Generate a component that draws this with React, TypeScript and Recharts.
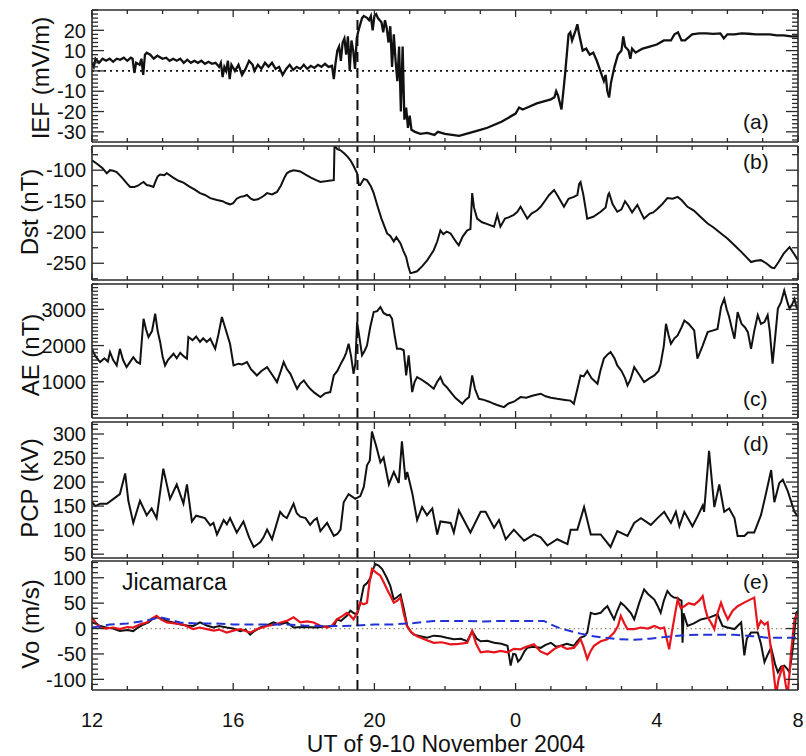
import React from 'react';
import { LineChart, Line, XAxis, YAxis, ReferenceLine } from 'recharts';

// x values are hours after 12 UT on 9 November 2004
const xMajorTicks = [0, 4, 8, 12, 16, 20];
const xTickLabels = ['12', '16', '20', '0', '4', '8'];
const eventHour = 7.52;

const iefPoints: [number, number][] = [
  [0, 4], [0.05, 2], [0.1, 6], [0.2, 4], [0.3, 6], [0.4, 5], [0.5, 6], [0.6, 4.5], [0.7, 6], [0.8, 5.5],
  [0.9, 6.5], [1.0, 5], [1.1, 6.5], [1.15, 6], [1.2, -1], [1.25, 4], [1.35, 3], [1.4, 6], [1.45, -2], [1.5, 8],
  [1.55, 9], [1.65, 8], [1.75, 6], [1.85, 7.5], [2.0, 6], [2.1, 6.5], [2.2, 5], [2.3, 6], [2.4, 5], [2.5, 6],
  [2.6, 4], [2.7, 5.5], [2.8, 4], [2.9, 5], [3.0, 4], [3.1, 5], [3.2, 3.5], [3.3, 4.5], [3.4, 3.5], [3.5, 4],
  [3.6, 2], [3.65, 4], [3.7, -3], [3.75, 2], [3.8, 0], [3.85, 5], [3.9, -4], [3.95, 3], [4.05, 0], [4.15, 3],
  [4.25, -2], [4.35, 1], [4.45, 5], [4.55, 3], [4.6, 0], [4.7, 3], [4.8, 1], [4.9, 4], [5.0, 2], [5.1, 4],
  [5.2, 1], [5.3, 2], [5.4, -2], [5.5, 1], [5.6, 3], [5.7, 0.5], [5.8, 2], [5.9, 1], [6.0, 3], [6.1, 1],
  [6.2, 2.5], [6.3, 1.5], [6.4, 3], [6.5, 2], [6.6, 3.5], [6.7, 2], [6.8, 2.5], [6.85, -4], [6.9, 4], [6.95, 10],
  [7.0, 12], [7.05, 5], [7.1, 14], [7.15, 16], [7.2, 8], [7.25, 17], [7.3, 0], [7.35, 15], [7.4, 10], [7.45, 1],
  [7.5, 16], [7.55, 20], [7.6, 23], [7.65, 26], [7.7, 27], [7.8, 26], [7.85, 25], [7.9, 27], [7.95, 20], [8.0, 27],
  [8.05, 28], [8.1, 26], [8.2, 24], [8.25, 19], [8.3, 25], [8.35, 21], [8.4, 14], [8.45, 22], [8.5, 2], [8.55, 18],
  [8.6, 5], [8.65, -5], [8.7, 12], [8.75, -20], [8.8, 12], [8.85, -24], [8.9, -18], [8.95, -28], [9.0, -22], [9.05, -29],
  [9.15, -30], [9.3, -31], [9.5, -30.5], [9.7, -31.5], [9.8, -30], [10.0, -31], [10.2, -31.5], [10.4, -32], [10.6, -31], [10.8, -30],
  [11.0, -29], [11.2, -28], [11.4, -26.5], [11.6, -25], [11.8, -23], [12.0, -21], [12.1, -18], [12.2, -19], [12.4, -17.5], [12.6, -16],
  [12.8, -15], [13.0, -14], [13.1, -13], [13.15, -10], [13.2, -12], [13.3, -19], [13.4, -2], [13.45, 8], [13.5, 18], [13.55, 19],
  [13.6, 15], [13.7, 20], [13.75, 23], [13.8, 18], [13.9, 10], [14.0, 11], [14.1, 8], [14.2, 9], [14.3, 5], [14.4, 0],
  [14.5, -5], [14.55, -2], [14.6, -10], [14.65, -13], [14.7, -6], [14.8, 2], [14.9, 8], [15.0, 10], [15.05, 17], [15.1, 12],
  [15.2, 10], [15.25, 6], [15.3, 11], [15.4, 9], [15.5, 10], [15.6, 11], [15.8, 12], [16.0, 13], [16.2, 15], [16.4, 15],
  [16.5, 18], [16.6, 19], [16.7, 15], [16.8, 15], [17.0, 18], [17.2, 18.5], [17.4, 18.5], [17.6, 18.2], [17.8, 18.5], [17.9, 16],
  [18.0, 18], [18.2, 18], [18.4, 18.5], [18.6, 18.3], [18.8, 18], [19.0, 18], [19.2, 18], [19.4, 17.5], [19.6, 17.5], [19.8, 17],
  [20.0, 17],
];

const dstPoints: [number, number][] = [
  [0, -84], [0.15, -90], [0.3, -97], [0.42, -105], [0.51, -100], [0.6, -101], [0.7, -103], [0.85, -112], [1.0, -122], [1.08, -127],
  [1.2, -127], [1.3, -125], [1.4, -121], [1.46, -119], [1.55, -124], [1.65, -125], [1.74, -127], [1.8, -118], [1.86, -110], [1.93, -107],
  [2.05, -108], [2.12, -105], [2.3, -112], [2.45, -117], [2.59, -120], [2.75, -126], [2.9, -131], [3.06, -137], [3.2, -140], [3.35, -145],
  [3.54, -148], [3.7, -150], [3.8, -153], [3.91, -155], [4.0, -153], [4.1, -146], [4.2, -143], [4.3, -142], [4.39, -140], [4.5, -146],
  [4.58, -148], [4.7, -147], [4.85, -142], [4.96, -137], [5.1, -139], [5.24, -135], [5.35, -125], [5.45, -112], [5.52, -105], [5.6, -102],
  [5.71, -100], [5.8, -101], [5.9, -102], [6.05, -107], [6.2, -112], [6.35, -116], [6.47, -119], [6.6, -118], [6.7, -117], [6.85, -116],
  [6.87, -60], [6.95, -66], [7.04, -68], [7.15, -73], [7.25, -79], [7.32, -84], [7.4, -92], [7.51, -105], [7.56, -124], [7.6, -124],
  [7.7, -114], [7.79, -116], [7.9, -126], [7.98, -137], [8.1, -160], [8.2, -178], [8.36, -202], [8.45, -206], [8.55, -215], [8.62, -208],
  [8.74, -218], [8.82, -230], [8.9, -240], [8.96, -255], [9.02, -266], [9.1, -265], [9.21, -263], [9.35, -255], [9.5, -245], [9.68, -229],
  [9.78, -215], [9.87, -197], [9.95, -203], [10.05, -199], [10.16, -202], [10.25, -210], [10.32, -216], [10.39, -221], [10.5, -207], [10.63, -197],
  [10.72, -195], [10.77, -137], [10.82, -160], [10.91, -178], [11.05, -184], [11.2, -187], [11.39, -191], [11.48, -172], [11.57, -191], [11.7, -178],
  [11.8, -176], [11.95, -172], [12.05, -167], [12.14, -159], [12.25, -170], [12.33, -178], [12.45, -170], [12.6, -165], [12.71, -159], [12.85, -148],
  [12.95, -140], [13.09, -132], [13.2, -142], [13.3, -152], [13.37, -159], [13.5, -146], [13.65, -143], [13.75, -140], [13.8, -122], [13.84, -119],
  [13.92, -140], [14.03, -178], [14.2, -175], [14.41, -167], [14.55, -160], [14.62, -140], [14.65, -137], [14.75, -155], [14.88, -167], [15.0, -163],
  [15.1, -150], [15.2, -158], [15.3, -168], [15.45, -156], [15.55, -168], [15.64, -178], [15.8, -170], [15.9, -168], [16.02, -162], [16.15, -155],
  [16.3, -145], [16.45, -146], [16.59, -143], [16.7, -148], [16.87, -159], [17.05, -165], [17.25, -176], [17.44, -186], [17.6, -192], [17.82, -202],
  [18.0, -210], [18.2, -221], [18.4, -232], [18.55, -241], [18.67, -248], [18.8, -246], [18.95, -245], [19.1, -250], [19.25, -257], [19.33, -258],
  [19.45, -248], [19.6, -234], [19.76, -224], [19.9, -236], [20.0, -245],
];

const aePoints: [number, number][] = [
  [0, 1900], [0.1, 1700], [0.23, 1544], [0.35, 1650], [0.45, 1560], [0.51, 1820], [0.6, 1600], [0.7, 1450], [0.79, 1910], [0.88, 1600],
  [0.98, 1405], [1.08, 1550], [1.17, 1680], [1.27, 1550], [1.36, 1500], [1.46, 2740], [1.53, 2450], [1.6, 2235], [1.7, 2400], [1.79, 2880],
  [1.86, 2400], [1.93, 2100], [2.0, 1700], [2.07, 1450], [2.15, 1600], [2.31, 1775], [2.4, 1650], [2.5, 1800], [2.6, 1700], [2.69, 1640],
  [2.73, 2235], [2.85, 2150], [2.95, 2250], [3.06, 2100], [3.15, 2200], [3.25, 2100], [3.35, 2190], [3.42, 2050], [3.49, 1910], [3.58, 2300],
  [3.68, 2790], [3.8, 2400], [3.91, 2050], [4.01, 1450], [4.15, 1500], [4.25, 1480], [4.39, 1544], [4.5, 1350], [4.6, 1250], [4.67, 1175],
  [4.8, 1300], [4.96, 1405], [5.1, 1200], [5.24, 990], [5.35, 1300], [5.43, 1544], [5.52, 1350], [5.62, 1220], [5.72, 1000], [5.81, 807],
  [5.9, 950], [6.0, 1035], [6.1, 900], [6.18, 807], [6.3, 700], [6.47, 577], [6.6, 680], [6.75, 716], [6.85, 1175], [6.95, 1300],
  [7.05, 1500], [7.13, 1640], [7.2, 1800], [7.27, 2050], [7.34, 1700], [7.41, 1220], [7.46, 1500], [7.51, 2650], [7.58, 2200], [7.65, 1730],
  [7.72, 1850], [7.79, 2000], [7.88, 2500], [7.98, 2925], [8.08, 2950], [8.17, 3065], [8.26, 2900], [8.36, 2840], [8.43, 2850], [8.5, 2740],
  [8.57, 2300], [8.64, 1910], [8.74, 1910], [8.83, 1870], [8.9, 1175], [8.97, 1730], [9.07, 716], [9.14, 1000], [9.21, 1130], [9.35, 1050],
  [9.5, 950], [9.68, 807], [9.78, 1000], [9.87, 1130], [9.95, 950], [10.05, 850], [10.16, 716], [10.3, 550], [10.49, 392], [10.58, 500],
  [10.68, 577], [10.77, 1175], [10.85, 800], [10.96, 530], [11.1, 500], [11.25, 450], [11.39, 392], [11.5, 350], [11.67, 300], [11.8, 400],
  [11.95, 450], [12.14, 577], [12.3, 560], [12.5, 620], [12.71, 670], [12.85, 600], [13.0, 560], [13.18, 530], [13.4, 500], [13.55, 480],
  [13.65, 392], [13.75, 800], [13.84, 1175], [13.93, 1150], [14.03, 1300], [14.15, 1100], [14.32, 945], [14.4, 1300], [14.5, 1640], [14.6, 1750],
  [14.69, 1820], [14.8, 1650], [14.88, 1450], [15.0, 1300], [15.1, 1100], [15.17, 900], [15.25, 1050], [15.36, 1405], [15.5, 1200], [15.64, 990],
  [15.8, 1100], [15.93, 1175], [16.05, 1300], [16.11, 1500], [16.2, 2000], [16.26, 2600], [16.33, 2300], [16.4, 2050], [16.5, 2200], [16.59, 2280],
  [16.7, 2500], [16.78, 2690], [16.9, 2600], [17.06, 2420], [17.15, 1640], [17.3, 2000], [17.44, 2370], [17.6, 2420], [17.72, 2460], [17.82, 3065],
  [17.91, 3290], [17.98, 3000], [18.05, 2790], [18.12, 2500], [18.2, 2190], [18.29, 2925], [18.4, 2600], [18.5, 2500], [18.58, 2370], [18.67, 1910],
  [18.76, 2400], [18.86, 2840], [18.95, 2600], [19.05, 2650], [19.14, 2840], [19.2, 2400], [19.28, 1500], [19.36, 2300], [19.43, 3020], [19.52, 3200],
  [19.61, 3520], [19.7, 3200], [19.76, 3020], [19.84, 3150], [19.9, 3290], [19.96, 3050], [20.0, 3020],
];

const pcpPoints: [number, number][] = [
  [0, 158], [0.1, 150], [0.23, 155], [0.42, 155], [0.61, 165], [0.79, 175], [0.94, 218], [1.03, 161], [1.17, 115], [1.36, 161],
  [1.55, 131], [1.69, 145], [1.83, 125], [2.02, 228], [2.21, 165], [2.4, 195], [2.59, 155], [2.69, 195], [2.83, 118], [2.95, 130],
  [3.06, 128], [3.2, 125], [3.35, 110], [3.44, 115], [3.54, 91], [3.63, 105], [3.73, 121], [3.82, 112], [3.91, 125], [4.1, 95],
  [4.29, 118], [4.45, 85], [4.58, 65], [4.68, 70], [4.77, 75], [4.86, 85], [4.96, 101], [5.1, 81], [5.33, 138], [5.42, 130],
  [5.52, 125], [5.71, 155], [5.8, 135], [5.9, 128], [6.05, 125], [6.18, 111], [6.28, 120], [6.37, 125], [6.47, 98], [6.66, 115],
  [6.85, 88], [6.95, 92], [7.04, 101], [7.13, 158], [7.27, 175], [7.46, 165], [7.6, 171], [7.7, 190], [7.79, 235], [7.87, 245],
  [7.93, 305], [8.05, 275], [8.17, 241], [8.26, 251], [8.41, 195], [8.55, 221], [8.69, 198], [8.78, 285], [8.88, 205], [8.93, 221],
  [9.07, 178], [9.21, 121], [9.35, 148], [9.49, 131], [9.64, 145], [9.78, 91], [9.87, 118], [10.16, 115], [10.25, 95], [10.39, 141],
  [10.72, 95], [11.01, 138], [11.15, 138], [11.39, 105], [11.53, 121], [11.72, 81], [11.95, 101], [12.24, 78], [12.52, 91], [12.71, 85],
  [12.9, 68], [13.18, 81], [13.47, 71], [13.56, 101], [13.75, 101], [13.94, 148], [14.13, 91], [14.41, 91], [14.69, 65], [14.88, 98],
  [15.17, 88], [15.36, 115], [15.55, 125], [15.83, 111], [16.02, 125], [16.21, 138], [16.4, 115], [16.54, 138], [16.64, 108], [16.78, 138],
  [17.01, 108], [17.15, 128], [17.3, 151], [17.34, 138], [17.48, 265], [17.63, 148], [17.77, 195], [17.91, 138], [18.05, 145], [18.2, 125],
  [18.29, 88], [18.48, 88], [18.58, 95], [18.76, 95], [18.95, 131], [19.09, 175], [19.24, 225], [19.33, 158], [19.47, 198], [19.57, 205],
  [19.71, 181], [19.9, 138], [20.0, 128],
];

const voObservedPoints: [number, number][] = [
  [0, 12], [0.1, 10], [0.23, 5], [0.4, 2], [0.6, 0], [0.79, -5], [1.0, -3], [1.17, -5], [1.3, 2], [1.46, 8],
  [1.6, 12], [1.7, 18], [1.83, 22], [1.95, 20], [2.12, 15], [2.3, 12], [2.5, 8], [2.7, 6], [2.87, 5], [3.06, 12],
  [3.25, 6], [3.44, 2], [3.6, 5], [3.82, 2], [4.0, 0], [4.2, -5], [4.35, -2], [4.48, -12], [4.6, -5], [4.77, 2],
  [4.95, 6], [5.14, 12], [5.3, 8], [5.52, 12], [5.6, 8], [5.71, 2], [6.0, 3], [6.37, 2], [6.6, 4], [6.85, 5],
  [6.94, 18], [7.05, 15], [7.22, 25], [7.32, 35], [7.42, 30], [7.51, 28], [7.6, 50], [7.7, 84], [7.8, 90], [7.89, 100],
  [7.95, 115], [8.03, 127], [8.12, 124], [8.22, 117], [8.35, 100], [8.45, 84], [8.55, 57], [8.65, 62], [8.74, 67], [8.83, 40],
  [8.93, 5], [9.02, -5], [9.12, -12], [9.3, -15], [9.49, -18], [9.68, -14], [9.87, -15], [10.05, -18], [10.25, -21], [10.45, -20],
  [10.63, -25], [10.77, -5], [10.9, -20], [11.01, -25], [11.2, -24], [11.39, -28], [11.6, -30], [11.77, -34], [11.86, -73], [11.93, -50],
  [12.0, -51], [12.07, -65], [12.14, -60], [12.25, -45], [12.33, -38], [12.5, -36], [12.71, -38], [12.85, -32], [13.0, -28], [13.15, -36],
  [13.28, -34], [13.45, -30], [13.65, -34], [13.75, -25], [13.84, -18], [13.95, -15], [14.03, -8], [14.13, 31], [14.25, 28], [14.41, 31],
  [14.5, 38], [14.6, 44], [14.7, 30], [14.79, 18], [14.88, 35], [14.98, 51], [15.08, 45], [15.17, 38], [15.27, 30], [15.36, 18],
  [15.5, 50], [15.64, 77], [15.75, 68], [15.93, 57], [16.02, 45], [16.11, 31], [16.2, 55], [16.3, 74], [16.4, 65], [16.49, 61],
  [16.6, 60], [16.64, 57], [16.7, 55], [16.73, -28], [16.76, 30], [16.87, 5], [17.05, 10], [17.25, 18], [17.5, 22], [17.72, 28],
  [17.86, 5], [18.0, 2], [18.2, -1], [18.39, 12], [18.48, -53], [18.55, -20], [18.67, -8], [18.86, -8], [18.95, -30], [19.05, -66],
  [19.15, -50], [19.24, -38], [19.35, -70], [19.43, -86], [19.52, -75], [19.61, -73], [19.7, -80], [19.76, -86], [19.85, -40], [19.95, 31],
  [20.0, 35],
];

const voModelPoints: [number, number][] = [
  [0, 22], [0.1, 12], [0.23, 2], [0.4, 0], [0.6, 2], [0.79, -1], [1.0, 3], [1.17, 2], [1.35, 8], [1.55, 12],
  [1.7, 20], [1.83, 25], [1.95, 18], [2.12, 12], [2.35, 10], [2.59, 8], [2.7, 4], [2.87, -1], [3.05, 2], [3.25, -1],
  [3.45, -4], [3.6, -2], [3.82, -8], [4.0, -4], [4.2, -1], [4.35, -5], [4.48, -8], [4.65, -2], [4.96, 5], [5.2, 8],
  [5.35, 12], [5.52, 15], [5.71, 22], [5.9, 12], [6.1, 14], [6.28, 12], [6.45, 6], [6.66, 2], [6.8, 6], [6.94, 18],
  [7.1, 25], [7.22, 31], [7.32, 25], [7.41, 18], [7.5, 30], [7.6, 51], [7.7, 48], [7.79, 51], [7.86, 90], [7.93, 117],
  [8.05, 110], [8.17, 104], [8.27, 90], [8.36, 77], [8.45, 65], [8.55, 51], [8.65, 55], [8.74, 61], [8.83, 30], [8.92, 5],
  [9.05, -8], [9.21, -15], [9.45, -22], [9.68, -28], [9.9, -27], [10.16, -31], [10.4, -30], [10.63, -28], [10.77, -5], [10.88, -30],
  [11.01, -47], [11.2, -45], [11.39, -47], [11.58, -44], [11.77, -47], [11.95, -40], [12.14, -41], [12.3, -36], [12.52, -31], [12.7, -45],
  [12.9, -51], [13.1, -40], [13.28, -34], [13.45, -40], [13.65, -38], [13.75, -30], [13.84, -21], [13.92, -35], [14.03, -60], [14.12, -45],
  [14.22, -34], [14.41, -25], [14.6, -21], [14.79, -8], [14.9, 5], [14.98, 25], [15.08, 10], [15.17, -1], [15.36, -1], [15.55, 2],
  [15.75, 0], [15.93, 5], [16.1, 0], [16.21, 2], [16.35, -41], [16.42, -10], [16.49, 18], [16.59, 57], [16.68, 40], [16.78, 44],
  [16.9, 50], [17.06, 47], [17.2, 55], [17.3, 64], [17.37, 40], [17.44, 22], [17.55, 10], [17.63, -1], [17.72, 30], [17.82, 51],
  [17.9, 35], [18.01, 18], [18.15, 35], [18.29, 44], [18.5, 52], [18.76, 61], [18.86, 2], [18.95, 15], [19.05, 8], [19.14, 12],
  [19.25, -50], [19.38, -130], [19.45, -100], [19.57, -73], [19.65, -110], [19.71, -130], [19.8, -50], [19.9, 18], [20.0, 31],
];

const voQuietPoints: [number, number][] = [
  [0, 2], [0.3, 5], [0.51, 8], [1.0, 10], [1.5, 15], [1.93, 22], [2.2, 18], [2.5, 12], [3.0, 10], [3.5, 10],
  [4.0, 8], [4.5, 8], [5.0, 8], [5.5, 8], [6.0, 6], [6.5, 5], [7.0, 5], [7.5, 6], [8.0, 8], [8.5, 8],
  [9.0, 10], [9.68, 15], [10.2, 15], [10.63, 15], [11.1, 14], [11.57, 15], [12.2, 15], [12.8, 15], [13.0, 8], [13.28, 0],
  [13.84, -10], [14.1, -14], [14.41, -17], [14.9, -21], [15.36, -22], [15.8, -20], [16.3, -16], [16.8, -13], [17.25, -12], [17.7, -12],
  [18.2, -12], [18.7, -15], [19.14, -18], [19.6, -18], [20.0, -18],
];

const toRows = (pts: [number, number][]) => pts.map(([h, v]) => ({ h, v }));

const FONT = '"Liberation Sans", Arial, Helvetica, sans-serif';
const FRAME = '#2a2a2a';
const W = 806;

function range(start: number, stop: number, step: number) {
  const out: number[] = [];
  for (let v = start; v <= stop + 1e-9; v += step) out.push(Math.round(v * 1000) / 1000);
  return out;
}

const xTicks = range(0, 20, 1);

const makeXTick = (side: 'top' | 'bottom', labels: boolean) => (props: any) => {
  const { x, y, payload } = props;
  const v = payload.value as number;
  const mi = xMajorTicks.indexOf(v);
  const len = mi >= 0 ? 7 : 4;
  const d = side === 'bottom' ? -1 : 1;
  return (
    <g>
      <line x1={x} x2={x} y1={y} y2={y + d * len} stroke={FRAME} strokeWidth={1.3} />
      {labels && mi >= 0 ? (
        <text x={x} y={y + 37} textAnchor="middle" fontSize={20} fontFamily={FONT} fill="#111">
          {xTickLabels[mi]}
        </text>
      ) : null}
    </g>
  );
};

const makeYTick = (side: 'left' | 'right', majors: number[]) => (props: any) => {
  const { x, y, payload } = props;
  const v = payload.value as number;
  const major = majors.includes(v);
  const len = major ? 12 : 6;
  const d = side === 'left' ? 1 : -1;
  return (
    <g>
      <line x1={x} x2={x + d * len} y1={y} y2={y} stroke={FRAME} strokeWidth={1.3} />
      {side === 'left' && major ? (
        <text x={x - 6} y={y} dy="0.36em" textAnchor="end" fontSize={20} fontFamily={FONT} fill="#111">
          {v}
        </text>
      ) : null}
    </g>
  );
};

type PanelProps = {
  top: number;
  bottom: number;
  last?: boolean;
  domain: [number, number];
  yTicks: number[];
  yMajors: number[];
  children?: React.ReactNode;
};

const AXIS_PX = 1;

function Panel({ top, bottom, last, domain, yTicks, yMajors, children }: PanelProps) {
  const pad = 12;
  const chartTop = top - pad;
  const height = last ? 756 - chartTop : bottom - top + 2 * pad;
  const marginBottom = height - pad - (bottom - top);
  const axisLine = { stroke: FRAME, strokeWidth: 1.6 };
  return (
    <div style={{ position: 'absolute', left: 0, top: chartTop }}>
      <LineChart
        width={W}
        height={height}
        style={{ overflow: 'visible' }}
        margin={{ top: pad - AXIS_PX, bottom: marginBottom - AXIS_PX, left: 92 - AXIS_PX, right: 8 - AXIS_PX }}
      >
        <XAxis
          xAxisId="b"
          type="number"
          dataKey="h"
          domain={[0, 20]}
          allowDataOverflow
          ticks={xTicks}
          interval={0}
          height={AXIS_PX}
          tickSize={0}
          tickMargin={0}
          tickLine={false}
          axisLine={axisLine}
          tick={makeXTick('bottom', !!last)}
        />
        <XAxis
          xAxisId="t"
          orientation="top"
          type="number"
          dataKey="h"
          domain={[0, 20]}
          allowDataOverflow
          ticks={xTicks}
          interval={0}
          height={AXIS_PX}
          tickSize={0}
          tickMargin={0}
          tickLine={false}
          axisLine={axisLine}
          tick={makeXTick('top', false)}
        />
        <YAxis
          yAxisId="l"
          type="number"
          domain={domain}
          allowDataOverflow
          ticks={yTicks}
          interval={0}
          width={AXIS_PX}
          tickSize={0}
          tickMargin={0}
          tickLine={false}
          axisLine={axisLine}
          tick={makeYTick('left', yMajors)}
        />
        <YAxis
          yAxisId="r"
          orientation="right"
          type="number"
          domain={domain}
          allowDataOverflow
          ticks={yTicks}
          interval={0}
          width={AXIS_PX}
          tickSize={0}
          tickMargin={0}
          tickLine={false}
          axisLine={axisLine}
          tick={makeYTick('right', yMajors)}
        />
        {children}
        <ReferenceLine xAxisId="b" yAxisId="l" x={eventHour} stroke="#111" strokeWidth={2} strokeDasharray="10 6" />
      </LineChart>
    </div>
  );
}

const lineProps = {
  xAxisId: 'b',
  yAxisId: 'l',
  dataKey: 'v',
  type: 'linear' as const,
  dot: false,
  activeDot: false,
  isAnimationActive: false,
};

export default function App() {
  const tStyle = { fontFamily: FONT, fill: '#111' } as const;
  const yTitle = (label: string, x: number, y: number) => (
    <text x={x} y={y} transform={`rotate(-90 ${x} ${y})`} textAnchor="middle" fontSize={24} {...tStyle}>
      {label}
    </text>
  );
  return (
    <div style={{ position: 'absolute', left: 0, top: 0, width: W, height: 756, background: '#fff', overflow: 'hidden' }}>
      <Panel top={10} bottom={142} domain={[-35, 30]} yTicks={range(-34, 30, 2)} yMajors={[-30, -20, -10, 0, 10, 20]}>
        <ReferenceLine xAxisId="b" yAxisId="l" y={0} stroke="#111" strokeWidth={1.6} strokeDasharray="2 4" />
        <Line {...lineProps} data={toRows(iefPoints)} stroke="#111" strokeWidth={2.3} />
      </Panel>
      <Panel top={146} bottom={280} domain={[-277, -61]} yTicks={range(-275, -75, 25)} yMajors={[-250, -200, -150, -100]}>
        <Line {...lineProps} data={toRows(dstPoints)} stroke="#111" strokeWidth={2} />
      </Panel>
      <Panel top={284} bottom={418} domain={[0, 3700]} yTicks={range(100, 3700, 100)} yMajors={[1000, 2000, 3000]}>
        <Line {...lineProps} data={toRows(aePoints)} stroke="#111" strokeWidth={2} />
      </Panel>
      <Panel top={422} bottom={558} domain={[42, 325]} yTicks={range(50, 320, 10)} yMajors={[50, 100, 150, 200, 250, 300]}>
        <Line {...lineProps} data={toRows(pcpPoints)} stroke="#111" strokeWidth={2} />
      </Panel>
      <Panel top={561} bottom={690} last domain={[-121, 133]} yTicks={range(-110, 130, 10)} yMajors={[-100, -50, 0, 50, 100]}>
        <ReferenceLine xAxisId="b" yAxisId="l" y={0} stroke="#9c8b6e" strokeWidth={1.2} strokeDasharray="1.5 3" />
        <Line {...lineProps} data={toRows(voObservedPoints)} stroke="#111" strokeWidth={2} />
        <Line {...lineProps} data={toRows(voModelPoints)} stroke="#e8141c" strokeWidth={2.2} />
        <Line {...lineProps} data={toRows(voQuietPoints)} stroke="#2233d6" strokeWidth={2} strokeDasharray="9 5" />
      </Panel>
      <svg width={W} height={756} style={{ position: 'absolute', left: 0, top: 0, pointerEvents: 'none' }}>
        {yTitle('IEF (mV/m)', 49, 78)}
        {yTitle('Dst (nT)', 38, 212)}
        {yTitle('AE (nT)', 39, 355)}
        {yTitle('PCP (kV)', 38, 488)}
        {yTitle('Vo (m/s)', 39, 624)}
        <text x={743} y={129} fontSize={21} {...tStyle}>(a)</text>
        <text x={743} y={169} fontSize={21} {...tStyle}>(b)</text>
        <text x={743} y={406} fontSize={21} {...tStyle}>(c)</text>
        <text x={743} y={451} fontSize={21} {...tStyle}>(d)</text>
        <text x={743} y={589} fontSize={21} {...tStyle}>(e)</text>
        <text x={122} y={590} fontSize={23} {...tStyle}>Jicamarca</text>
        <text x={446} y={752} textAnchor="middle" fontSize={23} {...tStyle}>UT of 9-10 November 2004</text>
      </svg>
    </div>
  );
}
